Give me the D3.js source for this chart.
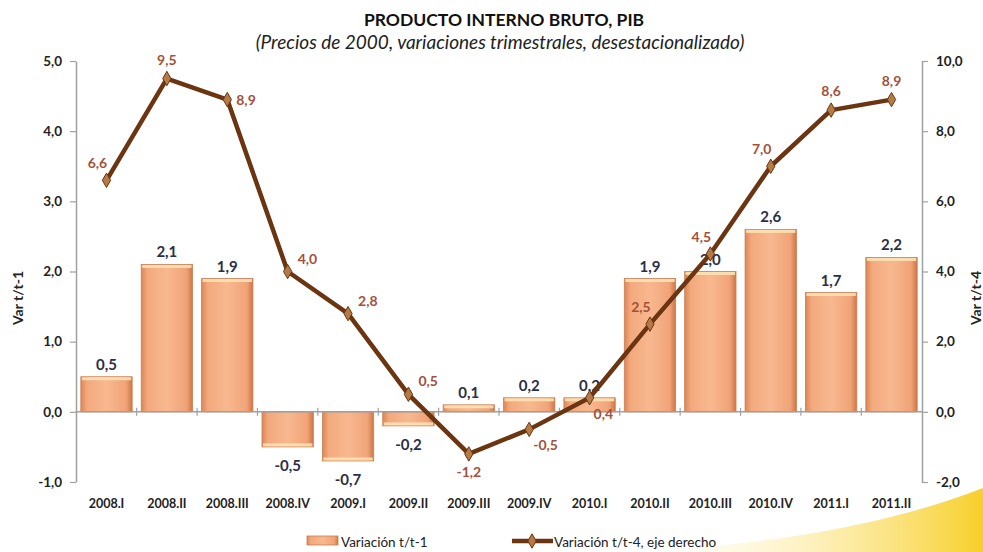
<!DOCTYPE html>
<html>
<head>
<meta charset="utf-8">
<script src="https://cdn.jsdelivr.net/npm/d3@7"></script>
<style>
  body { margin: 0; background: #fff; overflow: hidden; }
  svg { display: block; font-family: Lato, "Open Sans", sans-serif; }
</style>
</head>
<body>
<svg id="viz" width="983" height="552"></svg>
<script>
// data
var categories = ["2008.I", "2008.II", "2008.III", "2008.IV", "2009.I", "2009.II", "2009.III",
                  "2009.IV", "2010.I", "2010.II", "2010.III", "2010.IV", "2011.I", "2011.II"];
var varT1 = [0.5, 2.1, 1.9, -0.5, -0.7, -0.2, 0.1, 0.2, 0.2, 1.9, 2.0, 2.6, 1.7, 2.2];
var varT4 = [6.6, 9.5, 8.9, 4.0, 2.8, 0.5, -1.2, -0.5, 0.4, 2.5, 4.5, 7.0, 8.6, 8.9];
var leftTicks = [-1, 0, 1, 2, 3, 4, 5];
var rightTicks = [-2, 0, 2, 4, 6, 8, 10];

// where each line label sits relative to its point
var lineLabelPos = ["ul", "u", "r", "ur", "ur", "ur", "d", "dr", "dr", "ul", "ul", "ul", "u", "u"];

var LEFT = 76, RIGHT = 922, TOP = 61, BOTTOM = 482;
var fmt = function(v) { return d3.format(".1f")(v).replace(".", ",").replace("\u2212", "-"); };

var svg = d3.select("#viz");
var defs = svg.append("defs");

var grad = defs.append("linearGradient").attr("id", "barGrad")
    .attr("x1", "0").attr("x2", "1").attr("y1", "0").attr("y2", "0");
[["0%", "#dc8656"], ["12%", "#f3a97e"], ["50%", "#f8b88f"], ["88%", "#f1a378"], ["100%", "#cc7646"]]
    .forEach(function(s) { grad.append("stop").attr("offset", s[0]).attr("stop-color", s[1]); });

var swoosh = defs.append("linearGradient").attr("id", "swoosh")
    .attr("x1", "0").attr("x2", "1").attr("y1", "0").attr("y2", "0");
swoosh.append("stop").attr("offset", "0%").attr("stop-color", "#fff6c8").attr("stop-opacity", 0);
swoosh.append("stop").attr("offset", "100%").attr("stop-color", "#f7cf2a");

// decorative swoosh bottom right
svg.append("path")
    .attr("d", "M640,552 Q850,540 983,488 L983,552 Z")
    .attr("fill", "url(#swoosh)");

var x = d3.scaleBand().domain(categories).range([LEFT, RIGHT]).paddingInner(0.15).paddingOuter(0.08);
var yL = d3.scaleLinear().domain([-1, 5]).range([BOTTOM, TOP]);
var yR = d3.scaleLinear().domain([-2, 10]).range([BOTTOM, TOP]);

// title
svg.append("text").attr("x", 504).attr("y", 26).attr("text-anchor", "middle")
    .attr("font-size", 17.5).attr("font-weight", "bold").attr("fill", "#111")
    .text("PRODUCTO INTERNO BRUTO, PIB");
svg.append("text").attr("x", 500).attr("y", 49).attr("text-anchor", "middle")
    .attr("font-size", 19).attr("font-style", "italic").attr("fill", "#222")
    .text("(Precios de 2000, variaciones trimestrales, desestacionalizado)");

// axes
var leftAxis = svg.append("g").attr("transform", "translate(" + LEFT + ",0)")
    .call(d3.axisLeft(yL).tickValues(leftTicks).tickFormat(fmt).tickSize(6).tickSizeOuter(0).tickPadding(8));
var rightAxis = svg.append("g").attr("transform", "translate(" + RIGHT + ",0)")
    .call(d3.axisRight(yR).tickValues(rightTicks).tickFormat(fmt).tickSize(6).tickSizeOuter(0).tickPadding(8));
[leftAxis, rightAxis].forEach(function(a) {
    a.select(".domain").attr("stroke", "#a0a0a0").attr("stroke-width", 1.5);
    a.selectAll(".tick line").attr("stroke", "#a0a0a0").attr("stroke-width", 1.2);
    a.selectAll(".tick text").attr("font-size", 13.5).attr("font-weight", "bold")
        .attr("fill", "#222").attr("font-family", "Lato, sans-serif");
});

// axis titles
svg.append("text").attr("transform", "translate(23,298) rotate(-90)")
    .attr("text-anchor", "middle").attr("font-size", 14).attr("font-weight", "bold").attr("fill", "#222")
    .text("Var t/t-1");
svg.append("text").attr("transform", "translate(981,298) rotate(-90)")
    .attr("text-anchor", "middle").attr("font-size", 14).attr("font-weight", "bold").attr("fill", "#222")
    .text("Var t/t-4");

// bars
var bars = svg.append("g").selectAll("g").data(varT1).enter().append("g");
bars.append("rect")
    .attr("x", function(d, i) { return x(categories[i]); })
    .attr("width", x.bandwidth())
    .attr("y", function(d) { return yL(Math.max(0, d)); })
    .attr("height", function(d) { return Math.abs(yL(d) - yL(0)); })
    .attr("fill", "url(#barGrad)")
    .attr("stroke", "#c97e52").attr("stroke-width", 0.8);
bars.append("rect")
    .attr("x", function(d, i) { return x(categories[i]) + 1; })
    .attr("width", x.bandwidth() - 2)
    .attr("y", function(d) { return d >= 0 ? yL(d) + 0.5 : yL(d) - 3.5; })
    .attr("height", 3)
    .attr("fill", "#fde2b4").attr("opacity", 0.9);

// zero line with category ticks
svg.append("line").attr("x1", LEFT).attr("x2", RIGHT).attr("y1", yL(0)).attr("y2", yL(0))
    .attr("stroke", "#a0a0a0").attr("stroke-width", 1.5);
svg.append("g").selectAll("line").data(categories.slice(1)).enter().append("line")
    .attr("x1", function(d) { return x(d) - x.step() * x.paddingInner() / 2; })
    .attr("x2", function(d) { return x(d) - x.step() * x.paddingInner() / 2; })
    .attr("y1", yL(0) - 4).attr("y2", yL(0) + 4)
    .attr("stroke", "#a0a0a0").attr("stroke-width", 1.2);

// bar labels
svg.append("g").selectAll("text").data(varT1).enter().append("text")
    .attr("x", function(d, i) { return x(categories[i]) + x.bandwidth() / 2; })
    .attr("y", function(d) { return d >= 0 ? yL(d) - 7 : yL(d) + 24; })
    .attr("text-anchor", "middle").attr("font-size", 15).attr("font-weight", "bold")
    .attr("fill", "#2a2f45")
    .text(fmt);

// category labels
svg.append("g").selectAll("text").data(categories).enter().append("text")
    .attr("x", function(d) { return x(d) + x.bandwidth() / 2; })
    .attr("y", 508)
    .attr("text-anchor", "middle").attr("font-size", 12.5).attr("font-weight", "bold").attr("fill", "#222")
    .text(function(d) { return d; });

// line
var cx = function(i) { return x(categories[i]) + x.bandwidth() / 2; };
var line = d3.line().x(function(d, i) { return cx(i); }).y(function(d) { return yR(d); });
svg.append("path").datum(varT4).attr("d", line)
    .attr("fill", "none").attr("stroke", "#6a3510").attr("stroke-width", 4.5).attr("stroke-linejoin", "round");

var diamond = d3.symbol().type(d3.symbolDiamond).size(60);
svg.append("g").selectAll("path").data(varT4).enter().append("path")
    .attr("d", diamond)
    .attr("transform", function(d, i) { return "translate(" + cx(i) + "," + yR(d) + ")"; })
    .attr("fill", "#b57a45").attr("stroke", "#6a3510").attr("stroke-width", 1);

var offs = { u: [0, -14, "middle"], ul: [-9, -12, "middle"], ur: [10, -8, "start"], r: [9, 5, "start"],
             d: [0, 23, "middle"], dr: [4, 21, "start"] };
svg.append("g").selectAll("text").data(varT4).enter().append("text")
    .attr("x", function(d, i) { return cx(i) + offs[lineLabelPos[i]][0]; })
    .attr("y", function(d, i) { return yR(d) + offs[lineLabelPos[i]][1]; })
    .attr("text-anchor", function(d, i) { return offs[lineLabelPos[i]][2]; })
    .attr("font-size", 14).attr("font-weight", "bold").attr("fill", "#a4503a")
    .text(fmt);

// legend
var lg = svg.append("g");
lg.append("rect").attr("x", 307).attr("y", 536).attr("width", 31).attr("height", 9)
    .attr("fill", "url(#barGrad)").attr("stroke", "#c97e52").attr("stroke-width", 0.8);
lg.append("text").attr("x", 341).attr("y", 547).attr("font-size", 13.5).attr("fill", "#222")
    .text("Variación t/t-1");
lg.append("line").attr("x1", 512).attr("x2", 553).attr("y1", 541).attr("y2", 541)
    .attr("stroke", "#6a3510").attr("stroke-width", 4.5);
lg.append("path").attr("d", diamond).attr("transform", "translate(532,541)")
    .attr("fill", "#b57a45").attr("stroke", "#6a3510");
lg.append("text").attr("x", 554).attr("y", 547).attr("font-size", 13.5).attr("fill", "#222")
    .text("Variación t/t-4, eje derecho");
</script>
</body>
</html>
